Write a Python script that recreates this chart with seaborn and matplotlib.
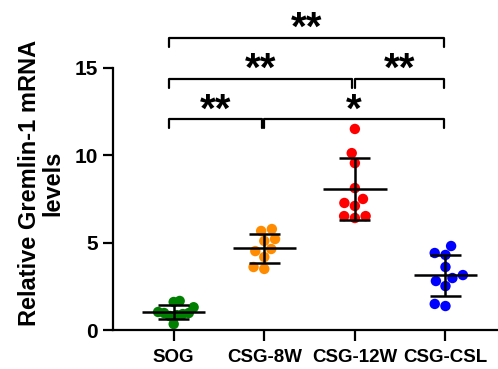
import numpy as np
import pandas as pd
import matplotlib
matplotlib.use("Agg")
import matplotlib.pyplot as plt
import seaborn as sns

# ---- data ----
groups = ["SOG", "CSG-8W", "CSG-12W", "CSG-CSL"]
sog = [1.66, 1.60, 1.30, 0.97, 1.03, 0.91, 0.97, 0.85, 0.80, 0.34]
csg_8w = [5.20, 5.66, 5.77, 5.09, 4.63, 4.51, 4.17, 3.49, 3.60]
csg_12w = [11.49, 10.11, 9.54, 8.11, 7.26, 7.49, 7.09, 6.51, 6.40, 6.51]
csg_csl = [4.80, 4.40, 4.29, 3.60, 3.14, 2.80, 2.51, 2.97, 1.37, 1.49]
colors = ["#008000", "#FF8C00", "#FF0000", "#0000FF"]

# significance brackets: (left group, right group, height, label)
brackets = [(0, 3, 16.7, "**"),
            (0, 2, 14.35, "**"), (2, 3, 14.35, "**"),
            (0, 1, 12.05, "**"), (1, 3, 12.05, "*")]

values = [sog, csg_8w, csg_12w, csg_csl]
df = pd.DataFrame({
    "group": np.repeat(groups, [len(v) for v in values]),
    "value": np.concatenate(values),
})

sns.set_style("ticks")
plt.rcParams["font.family"] = ["Liberation Sans", "DejaVu Sans"]
plt.rcParams["font.weight"] = "bold"
plt.rcParams["text.color"] = "black"
plt.rcParams["axes.labelcolor"] = "black"
plt.rcParams["xtick.color"] = "black"
plt.rcParams["ytick.color"] = "black"
plt.rcParams["axes.edgecolor"] = "black"

fig = plt.figure(figsize=(4.98, 3.69), dpi=100)
ax = fig.add_axes([113 / 498, 39 / 369, 385 / 498, 330 / 369])

sns.swarmplot(data=df, x="group", y="value", hue="group", order=groups,
              palette=colors, size=7.5, legend=False, ax=ax, zorder=1)

ax.set_xlim(-0.67, 3.58)
ax.set_ylim(0, 18.86)

# squeeze the swarm a bit so the dots overlap like the original
fig.canvas.draw()
for i, coll in enumerate(ax.collections[:len(groups)]):
    off = np.array(coll.get_offsets())
    coll.draw = type(coll).draw.__get__(coll)  # freeze seaborn's swarm layout
    dx = off[:, 0] - i
    mx = np.abs(dx).max()
    if mx > 0.22:
        off[:, 0] = i + dx * 0.22 / mx
    coll.set_offsets(off)

# mean +/- SD
for i, v in enumerate(values):
    m, sd = np.mean(v), np.std(v, ddof=1)
    ax.hlines(m, i - 0.35, i + 0.35, color="black", lw=1.8, zorder=3)
    ax.vlines(i, m - sd, m + sd, color="black", lw=1.8, zorder=3)
    ax.hlines([m - sd, m + sd], i - 0.17, i + 0.17, color="black", lw=1.8, zorder=3)

# brackets
for a, b, h, lab in brackets:
    x0 = a - 0.05 if a == 0 else a + 0.0
    x1 = b - 0.03 if b < 3 else b - 0.02
    ax.plot([x0, x0, x1, x1], [h - 0.5, h, h, h - 0.5], color="black", lw=1.6,
            clip_on=False)
    ax.text((x0 + x1) / 2, h + 0.5, lab, ha="center", va="center",
            fontsize=29, fontweight="bold")

ax.set_yticks([0, 5, 10, 15])
ax.spines["left"].set_bounds(0, 15)
ax.spines["top"].set_visible(False)
ax.spines["right"].set_visible(False)
for s in ["left", "bottom"]:
    ax.spines[s].set_linewidth(1.6)
ax.tick_params(axis="x", width=1.6, length=8, labelsize=13.5, pad=6)
ax.tick_params(axis="y", width=1.6, length=7, labelsize=15, pad=4)
for t in ax.get_xticklabels() + ax.get_yticklabels():
    t.set_fontweight("bold")
ax.set_xlabel("")
ax.set_ylabel("Relative Gremlin-1 mRNA\nlevels", fontsize=17, fontweight="bold",
              linespacing=1.0)
ax.yaxis.label.set_verticalalignment("center")
ax.yaxis.set_label_coords((41 - 113) / 385, (330 - 183) / 330)

fig.savefig("out.png", dpi=100)
